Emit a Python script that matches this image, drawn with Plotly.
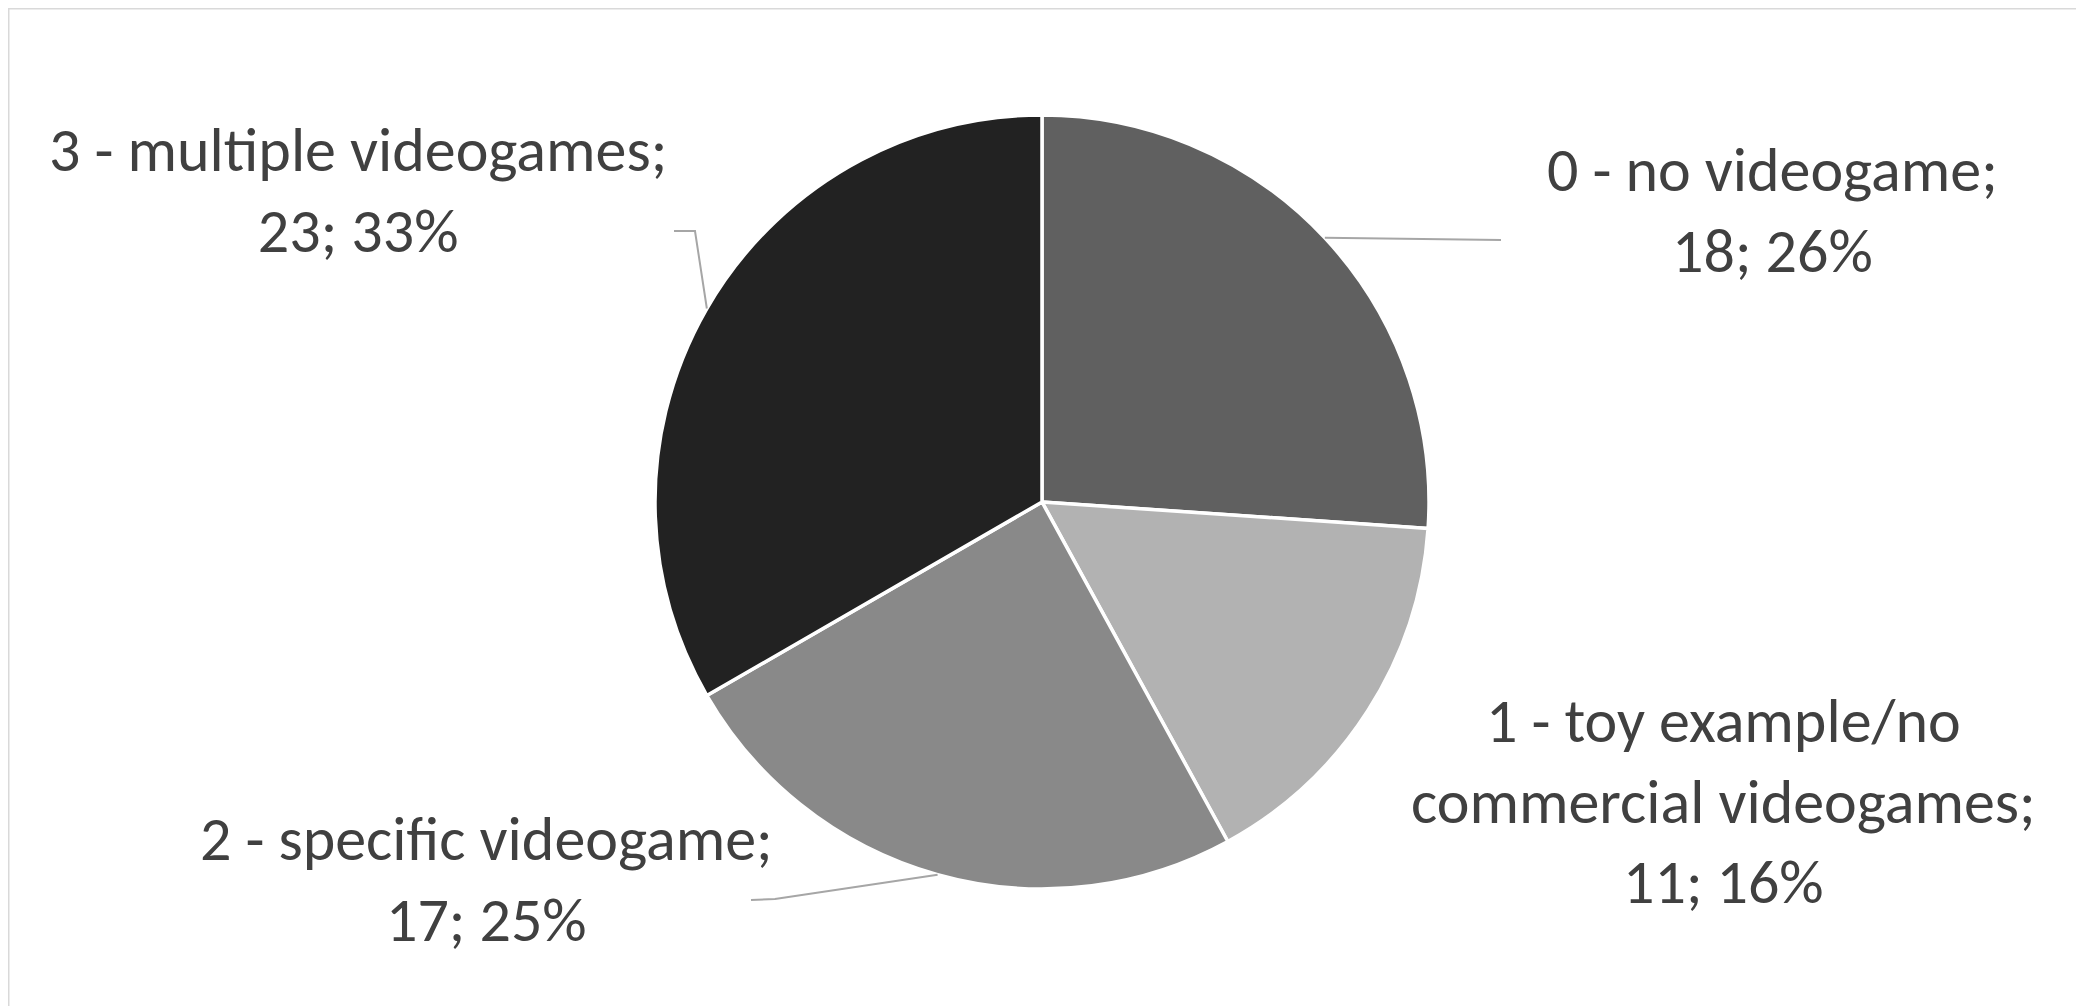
import math
import plotly.graph_objects as go

categories = ["0 - no videogame", "1 - toy example/no<br>commercial videogames",
              "2 - specific videogame", "3 - multiple videogames"]
values = [18, 11, 17, 23]
colors = ["#606060", "#b2b2b2", "#898989", "#222222"]

W, H = 2084, 1006
CX, CY, R = 1034, 494, 387  # pie center / radius in pixels (layout)

total = sum(values)
pct = [round(100 * v / total) for v in values]

# label block centres (pixels) and leader-line bends (layout)
label_pos = [(1764, 202), (1715, 793), (478, 871), (350, 183)]
leader_pts = [[(1493, 232)], None, [(767, 891), (743, 892)], [(687, 223), (666, 223)]]

def px(x, y):
    return x / W, 1 - y / H

fig = go.Figure(go.Pie(
    labels=categories, values=values, sort=False, direction="clockwise", rotation=0,
    marker=dict(colors=colors, line=dict(color="white", width=3.5)),
    textinfo="none", hoverinfo="label+value+percent", showlegend=False,
    domain=dict(x=[(CX - 450) / W, (CX + 450) / W], y=[1 - (CY + R) / H, 1 - (CY - R) / H]),
))

font = dict(family="Carlito, Calibri, 'Liberation Sans Narrow', Lato, sans-serif",
            size=62, color="#404040")

shapes = [dict(type="rect", xref="paper", yref="paper", x0=0, y0=0, x1=1, y1=1,
               line=dict(color="#d9d9d9", width=3))]
annotations = []
cum = 0
for i, v in enumerate(values):
    mid = (cum + v / 2) / total * 2 * math.pi
    cum += v
    ex, ey = CX + R * math.sin(mid), CY - R * math.cos(mid)
    lx, ly = label_pos[i]
    ax, ay = px(lx, ly)
    annotations.append(dict(x=ax, y=ay, xref="paper", yref="paper", showarrow=False,
                            text=f"{categories[i]};<br>{v}; {pct[i]}%", font=font,
                            xanchor="center", yanchor="middle", align="center"))
    if leader_pts[i]:
        pts = [(ex, ey)] + leader_pts[i]
        p = [px(*q) for q in pts]
        path = "M " + " L ".join(f"{a:.5f},{b:.5f}" for a, b in p)
        shapes.append(dict(type="path", xref="paper", yref="paper", path=path,
                           line=dict(color="#a6a6a6", width=2)))

fig.update_layout(width=W, height=H, margin=dict(l=0, r=0, t=0, b=0),
                  paper_bgcolor="white", plot_bgcolor="white",
                  shapes=shapes, annotations=annotations)
fig.write_html("out.html")
